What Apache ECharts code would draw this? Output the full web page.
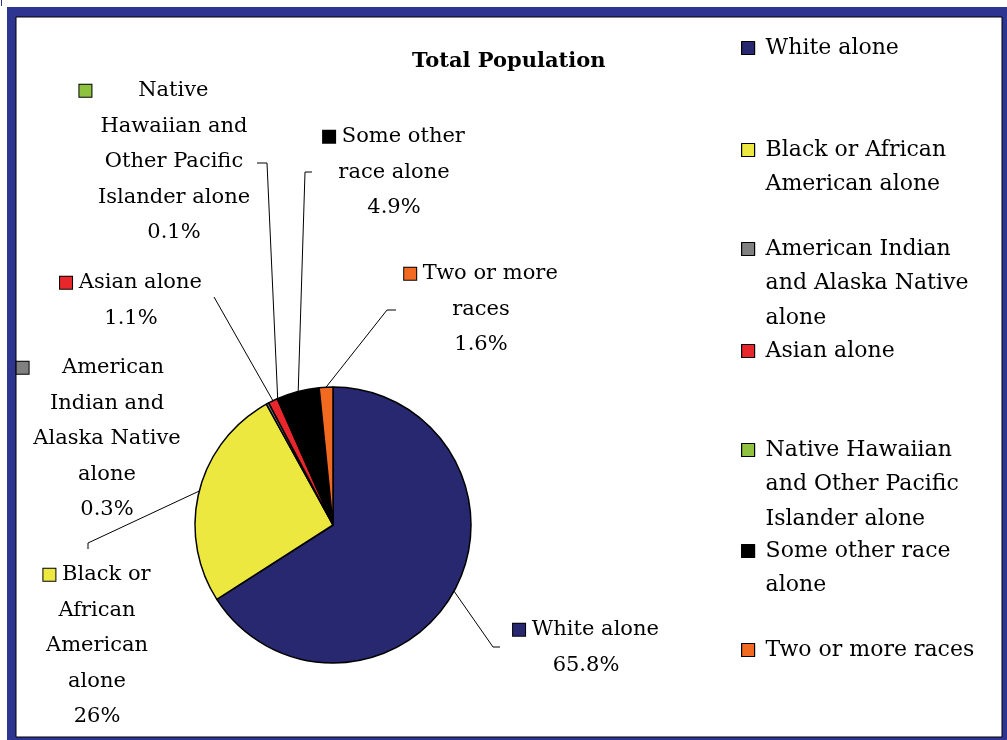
<!DOCTYPE html>
<html>
<head>
<meta charset="utf-8">
<script src="https://cdn.jsdelivr.net/npm/echarts@6/dist/echarts.min.js"></script>
<style>
  html, body { margin: 0; padding: 0; background: #ffffff; }
  #chart { position: absolute; left: 0; top: 0; width: 1007px; height: 740px; }
</style>
</head>
<body>
<div id="chart"></div>
<script>
// ---- data ----
const categories = [
  'White alone',
  'Black or African American alone',
  'American Indian and Alaska Native alone',
  'Asian alone',
  'Native Hawaiian and Other Pacific Islander alone',
  'Some other race alone',
  'Two or more races'
];
const values = [65.8, 26, 0.3, 1.1, 0.1, 4.9, 1.6];
const legendText = [
  ['White alone'],
  ['Black or African', 'American alone'],
  ['American Indian', 'and Alaska Native', 'alone'],
  ['Asian alone'],
  ['Native Hawaiian', 'and Other Pacific', 'Islander alone'],
  ['Some other race', 'alone'],
  ['Two or more races']
];
const labelText = [
  ['White alone'],
  ['Black or', 'African', 'American', 'alone'],
  ['    American     ', 'Indian and', 'Alaska Native', 'alone'],
  ['Asian alone'],
  ['      Native         ', 'Hawaiian and', 'Other Pacific', 'Islander alone'],
  ['Some other', 'race alone'],
  ['Two or more', 'races']
];

// ---- styles / layout (kept separate from data) ----
const colors = ['#27286f', '#ede83f', '#808080', '#e8262b', '#8fc23f', '#000000', '#f26a22'];
const FONT = 'DejaVu Serif';
const LH = 34.5;      // legend line height
const LLH = 35.5;     // label line height
const CX = 333, CY = 525, R = 138;
// label block: top-center position, leader line bend + end
const labelLayoutCfg = [
  { x: 586, y: 612, mid: [493, 647], end: [500, 647] },
  { x: 97,  y: 557, mid: [88, 543],  end: [88, 549] },
  { x: 107, y: 350, mid: null, end: null },
  { x: 131, y: 265, mid: [214, 297], end: [214, 297] },
  { x: 174, y: 73,  mid: [267, 163], end: [257, 163] },
  { x: 394, y: 119, mid: [305, 172], end: [312, 172] },
  { x: 481, y: 256, mid: [387, 310], end: [396, 310] }
];
const legendFirstLineY = [47, 149, 248, 350, 449, 550, 649];

const chart = echarts.init(document.getElementById('chart'), null, { renderer: 'canvas' });

const seriesData = categories.map((name, i) => ({
  name: name,
  value: values[i],
  itemStyle: { color: colors[i] },
  labelLine: { show: labelLayoutCfg[i].mid !== null }
}));

const rich = {};
colors.forEach((c, i) => {
  rich['k' + i] = { width: 12, height: 12, backgroundColor: c, borderColor: '#000', borderWidth: 1, lineHeight: LLH };
});

const legends = categories.map((name, i) => {
  const n = legendText[i].length;
  const pre = new Array(n - 1).fill('');
  return {
    data: [name],
    orient: 'vertical',
    left: 741,
    top: legendFirstLineY[i] - (2 * n - 1) * LH / 2 + 1,
    padding: 0,
    itemWidth: 13,
    itemHeight: 13,
    icon: 'rect',
    selectedMode: false,
    itemStyle: { borderColor: '#000', borderWidth: 1.2 },
    formatter: () => pre.concat(legendText[i]).join('\n'),
    textStyle: {
      fontFamily: FONT,
      fontSize: 22,
      color: '#000',
      lineHeight: LH,
      padding: [0, 0, 0, 6]
    }
  };
});

const option = {
  animation: false,
  backgroundColor: 'transparent',
  graphic: [
    { type: 'line', z: -10, shape: { x1: 1.5, y1: 0, x2: 1.5, y2: 6 }, style: { stroke: '#2e3591', lineWidth: 1 } },
    { type: 'rect', z: -10, shape: { x: 7, y: 7, width: 1000, height: 733 }, style: { fill: '#2e3591' } },
    { type: 'rect', z: -9, shape: { x: 16, y: 17, width: 986, height: 720 }, style: { fill: '#ffffff', stroke: '#000', lineWidth: 1 } }
  ],
  title: {
    text: 'Total Population',
    left: 412,
    top: 51,
    padding: 0,
    textStyle: { fontFamily: FONT, fontSize: 21, fontWeight: 'bold', color: '#000' }
  },
  legend: legends,
  series: [{
    type: 'pie',
    center: [CX, CY],
    radius: R,
    startAngle: 90,
    clockwise: true,
    avoidLabelOverlap: false,
    itemStyle: { borderColor: '#000', borderWidth: 1.5 },
    emphasis: { disabled: true },
    label: {
      show: true,
      position: 'outside',
      color: '#000',
      fontFamily: FONT,
      fontSize: 21,
      lineHeight: LLH,
      align: 'center',
      formatter: (p) => {
        const lines = labelText[p.dataIndex].slice();
        lines[0] = '{k' + p.dataIndex + '|} ' + lines[0];
        lines.push(p.value + '%');
        return lines.join('\n');
      },
      rich: rich
    },
    labelLine: {
      show: true,
      lineStyle: { color: '#000', width: 1 }
    },
    labelLayout: (params) => {
      const cfg = labelLayoutCfg[params.dataIndex];
      const out = { x: cfg.x, y: cfg.y, align: 'center', verticalAlign: 'top' };
      if (cfg.mid && params.labelLinePoints) {
        out.labelLinePoints = [params.labelLinePoints[0], cfg.mid, cfg.end];
      }
      return out;
    },
    data: seriesData
  }]
};

chart.setOption(option);
</script>
</body>
</html>
